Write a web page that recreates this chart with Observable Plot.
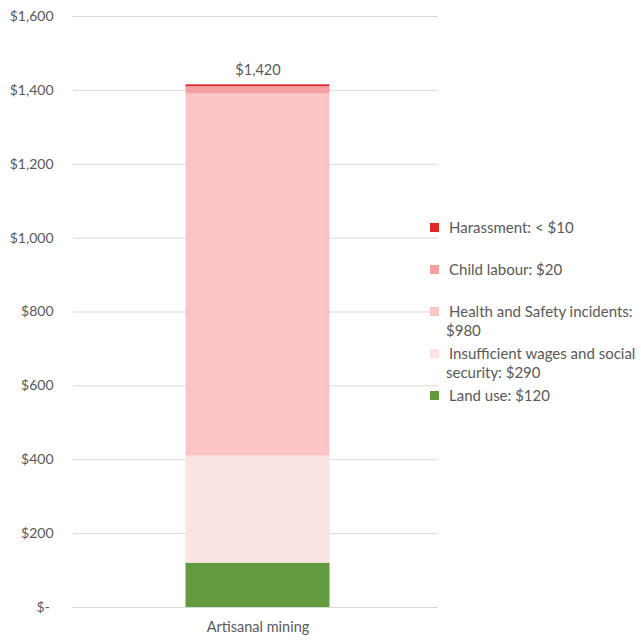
<!DOCTYPE html>
<html>
<head>
<meta charset="utf-8">
<script src="https://cdn.jsdelivr.net/npm/d3@7"></script>
<script src="https://cdn.jsdelivr.net/npm/@observablehq/plot@0.6"></script>
<style>
  html, body { margin: 0; padding: 0; background: #fff; }
  #wrap { position: relative; width: 641px; height: 643px; overflow: hidden; font-family: Lato, "Open Sans", sans-serif; color: #595959; }
  #legend { position: absolute; left: 430px; top: 218px; font-size: 15px; line-height: 18.5px; }
  .item { display: flex; align-items: flex-start; height: 42px; }
  .sw { width: 9px; height: 9px; flex: none; margin-top: 5px; margin-right: 10px; }
  .txt { white-space: nowrap; }
  .txt div:nth-child(2) { margin-left: -3px; }
</style>
</head>
<body>
<div id="wrap"></div>
<script>
const categories = ["Artisanal mining"];
const series = ["Land use", "Insufficient wages and social security", "Health and Safety incidents", "Child labour", "Harassment"];
const values = [120, 290, 980, 20, 5];
const colors = ["#619a3f", "#fde4e4", "#fcc5c5", "#f4a0a0", "#e02626"];
const totalValues = [1420];
const totalLabels = ["$1,420"];
const yTicks = [0, 200, 400, 600, 800, 1000, 1200, 1400, 1600];
const legendOrder = ["Harassment", "Child labour", "Health and Safety incidents", "Insufficient wages and social security", "Land use"];
const legendLines = [["Harassment: < $10"], ["Child labour: $20"], ["Health and Safety incidents:", "$980"], ["Insufficient wages and social", "security: $290"], ["Land use: $120"]];

const data = series.map((s, i) => ({category: categories[0], series: s, value: values[i]}));
const totals = categories.map((c, i) => ({category: c, value: totalValues[i], label: totalLabels[i]}));
const fmt = d => d === 0 ? "$-\u00a0" : "$" + d3.format(",")(d);

const chart = Plot.plot({
  width: 641,
  height: 643,
  marginLeft: 73,
  marginRight: 203,
  marginTop: 16,
  marginBottom: 36,
  style: {fontFamily: "Lato, 'Open Sans', sans-serif", fontSize: "14px", color: "#595959", background: "#fff"},
  x: {domain: categories, paddingInner: 0, paddingOuter: 0.767, label: null},
  y: {domain: [0, 1600], label: null},
  color: {domain: series, range: colors},
  marks: [
    Plot.gridY(yTicks, {stroke: "#d9d9d9", strokeOpacity: 1}),
    Plot.barY(data, {x: "category", y: "value", fill: "series", dx: 1.5}),
    Plot.text(totals, {x: "category", y: "value", text: "label", dy: -13, dx: 1.5, fill: "#595959", fontSize: 14.5}),
    Plot.axisY(yTicks, {tickSize: 0, tickPadding: 20, tickFormat: fmt, label: null, fontSize: 14}),
    Plot.axisX({tickSize: 0, tickPadding: 14, label: null, fontSize: 14.5, dx: 1.5})
  ]
});

const wrap = document.getElementById("wrap");
wrap.appendChild(chart);

const legend = document.createElement("div");
legend.id = "legend";
legendOrder.forEach((s, i) => {
  const item = document.createElement("div");
  item.className = "item";
  const sw = document.createElement("div");
  sw.className = "sw";
  sw.style.background = colors[series.indexOf(s)];
  const txt = document.createElement("div");
  txt.className = "txt";
  legendLines[i].forEach(line => {
    const l = document.createElement("div");
    l.textContent = line;
    txt.appendChild(l);
  });
  item.appendChild(sw);
  item.appendChild(txt);
  legend.appendChild(item);
});
wrap.appendChild(legend);
</script>
</body>
</html>
